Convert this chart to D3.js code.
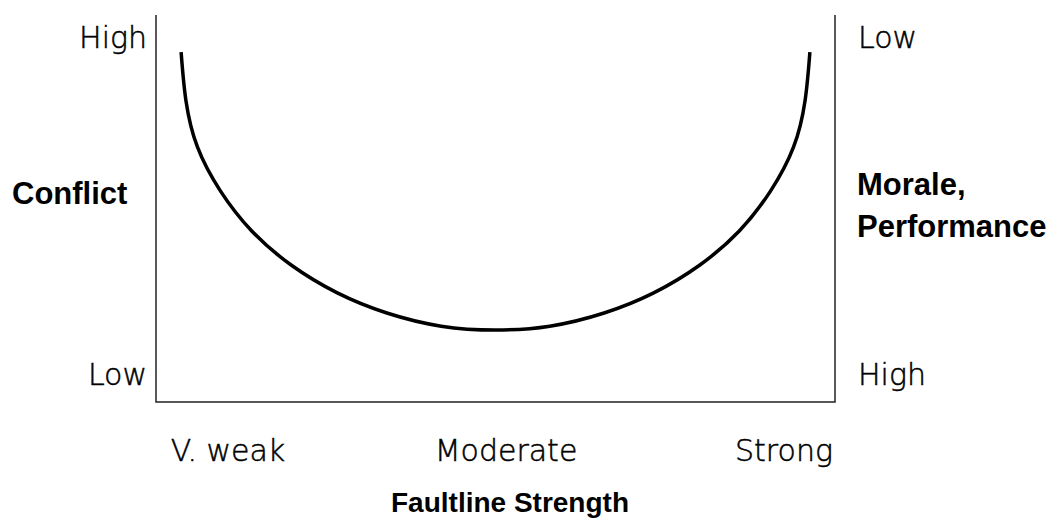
<!DOCTYPE html>
<html>
<head>
<meta charset="utf-8">
<script src="https://cdn.jsdelivr.net/npm/d3@7"></script>
<style>
  body { margin: 0; background: #fff; }
  .lbl { font-family: "DejaVu Sans", sans-serif; font-weight: 200; fill: #000; stroke: #000; stroke-width: 0.5; }
  .ttl { font-family: "Liberation Sans", Arial, sans-serif; font-weight: bold; fill: #000; }
</style>
</head>
<body>
<svg id="chart" width="1059" height="528"></svg>
<script>
// curve (x: faultline strength 0-100, y: conflict 0-100)
var strength = [3.7, 4.4, 6.1, 9.5, 14.1, 19.9, 26.7, 34.0, 42.0, 50, 58.0, 66.0, 73.3, 80.1, 85.9, 90.5, 93.9, 95.6, 96.3];
var conflict = [90.4, 78.0, 65.9, 54.5, 44.2, 35.4, 28.2, 23.0, 19.6, 18.6, 19.6, 23.0, 28.2, 35.4, 44.2, 54.5, 65.9, 78.0, 90.4];

var categories = ["V. weak", "Moderate", "Strong"];
var leftLevels = ["High", "Low"];
var rightLevels = ["Low", "High"];

var svg = d3.select("#chart");

// plot box edges (note: "top" is taken by window.top)
var boxL = 156, boxR = 835, boxT = 15, boxB = 402;

var x = d3.scaleLinear().domain([0, 100]).range([boxL, boxR]);
var y = d3.scaleLinear().domain([0, 100]).range([boxB, boxT]);
var xCat = d3.scalePoint().domain(categories).range([228, 784]);
var yLev = d3.scalePoint().domain(leftLevels).range([37, 374]);
var yLevR = d3.scalePoint().domain(rightLevels).range([37, 374]);

// frame: left, bottom, right (no top)
svg.append("path")
  .attr("d", "M" + boxL + "," + boxT + "V" + boxB + "H" + boxR + "V" + boxT)
  .attr("fill", "none")
  .attr("stroke", "#222")
  .attr("stroke-width", 1.5);

// U curve
var pts = strength.map(function(d, i) { return [d, conflict[i]]; });
var line = d3.line()
  .x(function(d) { return x(d[0]); })
  .y(function(d) { return y(d[1]); })
  .curve(d3.curveNatural);

svg.append("path")
  .datum(pts)
  .attr("d", line)
  .attr("fill", "none")
  .attr("stroke", "#000")
  .attr("stroke-width", 3.5);

// left levels
svg.selectAll(".lev-l")
  .data(leftLevels)
  .enter().append("text")
  .attr("class", "lbl")
  .attr("x", 147)
  .attr("y", function(d) { return yLev(d); })
  .attr("dy", "0.35em")
  .attr("text-anchor", "end")
  .attr("font-size", 30)
  .text(function(d) { return d; });

// right levels
svg.selectAll(".lev-r")
  .data(rightLevels)
  .enter().append("text")
  .attr("class", "lbl")
  .attr("x", 858)
  .attr("y", function(d) { return yLevR(d); })
  .attr("dy", "0.35em")
  .attr("font-size", 30)
  .text(function(d) { return d; });

// categories under the axis
svg.selectAll(".cat")
  .data(categories)
  .enter().append("text")
  .attr("class", "lbl")
  .attr("x", function(d) { return xCat(d); })
  .attr("y", 461)
  .attr("text-anchor", "middle")
  .attr("font-size", 30)
  .text(function(d) { return d; });

// axis titles
svg.append("text")
  .attr("class", "ttl")
  .attr("x", 12)
  .attr("y", 204)
  .attr("font-size", 31)
  .text("Conflict");

svg.append("text")
  .attr("class", "ttl")
  .attr("x", 857)
  .attr("y", 195)
  .attr("font-size", 31)
  .text("Morale,");

svg.append("text")
  .attr("class", "ttl")
  .attr("x", 857)
  .attr("y", 237)
  .attr("font-size", 31)
  .text("Performance");

svg.append("text")
  .attr("class", "ttl")
  .attr("x", 510)
  .attr("y", 512)
  .attr("text-anchor", "middle")
  .attr("font-size", 28)
  .text("Faultline Strength");
</script>
</body>
</html>
